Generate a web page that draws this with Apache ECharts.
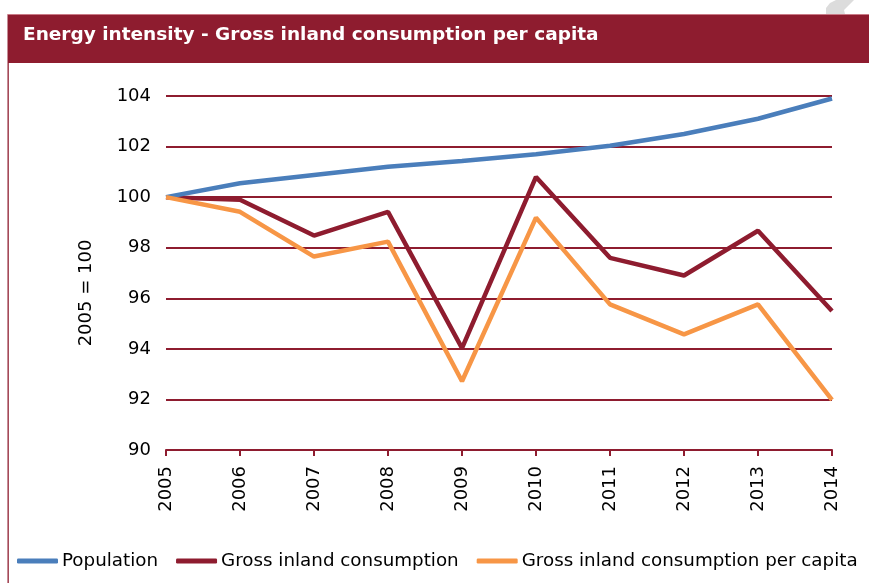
<!DOCTYPE html>
<html><head><meta charset="utf-8">
<script src="https://cdn.jsdelivr.net/npm/echarts@6/dist/echarts.min.js"></script>
<style>html,body{margin:0;padding:0;background:#fff}#c{width:869px;height:583px}</style>
</head><body><div id="c"></div>
<script>
const categories = ['2005','2006','2007','2008','2009','2010','2011','2012','2013','2014'];
const population = [100, 100.55, 100.88, 101.2, 101.43, 101.7, 102.03, 102.5, 103.1, 103.9];
const grossInland = [100, 99.9, 98.48, 99.42, 94.03, 100.8, 97.6, 96.9, 98.67, 95.5];
const perCapita = [100, 99.42, 97.65, 98.24, 92.72, 99.19, 95.76, 94.57, 95.76, 91.98];
const yTicks = [90, 92, 94, 96, 98, 100, 102, 104];
const titleText = 'Energy intensity - Gross inland consumption per capita';
const yName = '2005 = 100';

const RED = '#8E1C2F', BLUE = '#4A7EBB', ORANGE = '#F79646';
const chart = echarts.init(document.getElementById('c'));
chart.setOption({
  animation: false,
  textStyle: {fontFamily: 'DejaVu Sans'},
  graphic: [
    {type: 'polygon', shape: {points: [[836,0],[854,0],[849,5],[844,10],[845,14],[826,14],[826,8],[830,3]]}, style: {fill: '#dcdcdc'}},
    {type: 'rect', shape: {x: 7.5, y: 14.5, width: 862, height: 48.5}, style: {fill: RED}, z: -1},
    {type: 'rect', shape: {x: 7.5, y: 14, width: 862, height: 1}, style: {fill: '#c97a86'}},
    {type: 'rect', shape: {x: 7.5, y: 63, width: 1.3, height: 520}, style: {fill: RED}},
    {type: 'text', x: 23, y: 35, style: {text: titleText, fill: '#fff', font: 'bold 18.5px "DejaVu Sans"', verticalAlign: 'middle'}},
    {type: 'text', x: 86, y: 293, rotation: Math.PI / 2, style: {text: yName, fill: '#000', font: '18px "DejaVu Sans"', align: 'center', verticalAlign: 'middle'}}
  ],
  grid: {left: 166, right: 37, top: 96, bottom: 133},
  legend: {
    left: 17, top: 552, width: 900, padding: 0, itemGap: 18, itemWidth: 41, itemHeight: 5,
    icon: 'roundRect',
    textStyle: {fontSize: 18.3, color: '#000', fontFamily: 'DejaVu Sans', padding: [0, 0, 0, -1]},
    data: ['Population', 'Gross inland consumption', 'Gross inland consumption per capita']
  },
  xAxis: {
    type: 'category', data: categories, boundaryGap: false,
    axisLine: {lineStyle: {color: RED, width: 2}},
    axisTick: {show: true, length: 6, lineStyle: {color: RED, width: 2}},
    axisLabel: {rotate: 90, fontSize: 18, color: '#000', margin: 16}
  },
  yAxis: {
    type: 'value', min: 90, max: 104, interval: 2,
    axisLine: {show: false}, axisTick: {show: false},
    axisLabel: {fontSize: 18, color: '#000', margin: 15,
      formatter: v => yTicks.includes(v) ? String(v) : ''},
    splitLine: {lineStyle: {color: RED, width: 2}}
  },
  series: [
    {name: 'Population', type: 'line', data: population, symbol: 'none', lineStyle: {color: BLUE, width: 4.5}, itemStyle: {color: BLUE}, z: 3},
    {name: 'Gross inland consumption', type: 'line', data: grossInland, symbol: 'none', lineStyle: {color: RED, width: 4.5}, itemStyle: {color: RED}, z: 2},
    {name: 'Gross inland consumption per capita', type: 'line', data: perCapita, symbol: 'none', lineStyle: {color: ORANGE, width: 4.5}, itemStyle: {color: ORANGE}, z: 4}
  ]
});
</script></body></html>
